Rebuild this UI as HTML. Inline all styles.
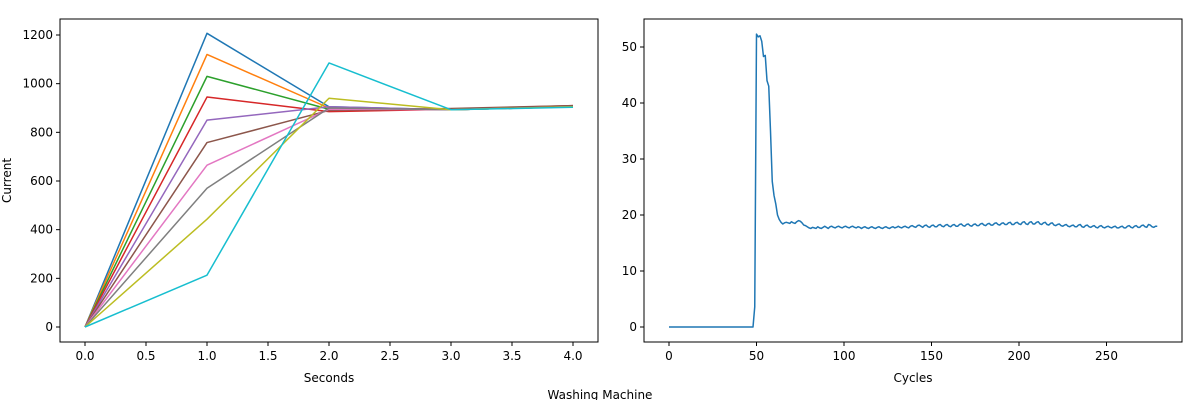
<!DOCTYPE html>
<html><head><meta charset="utf-8"><style>
html,body{margin:0;padding:0;background:#fff;}
svg{display:block;font-family:"DejaVu Sans","Liberation Sans",sans-serif;}
</style></head><body>
<svg id="chart" width="1200" height="400" viewBox="0 0 1200 400" xmlns="http://www.w3.org/2000/svg">
<rect width="1200" height="400" fill="#fff"/>
<g id="left"></g>
<g id="right"></g>
<text x="600" y="399" text-anchor="middle" font-size="12">Washing Machine</text>
</svg>
<script>
const leftX = [0,1,2,3,4];
const leftBlue   = [0,1207,905,893,905];
const leftOrange = [0,1120,900,893,905];
const leftGreen  = [0,1030,895,893,905];
const leftRed    = [0,945,885,895,910];
const leftPurple = [0,850,905,893,905];
const leftBrown  = [0,758,890,898,910];
const leftPink   = [0,665,895,893,905];
const leftGray   = [0,570,900,893,905];
const leftOlive  = [0,443,940,893,905];
const leftCyan   = [0,213,1085,893,903];
const leftXTicks = [0,0.5,1,1.5,2,2.5,3,3.5,4];
const leftYTicks = [0,200,400,600,800,1000,1200];
const rightY = [
0,0,0,0,0,0,0,0,0,0, 0,0,0,0,0,0,0,0,0,0, 0,0,0,0,0,0,0,0,0,0, 0,0,0,0,0,0,0,0,0,0,
0,0,0,0,0,0,0,0,0,3.6,
52.3,51.8,52,51,48.3,48.5,44,43,35,26,
23.5,22,20,19.2,18.7,18.4,18.6,18.7,18.6,18.5,
18.8,18.6,18.5,18.8,19,18.9,18.6,18.2,18.1,17.9,
17.7,17.6,17.8,17.7,17.6,17.9,17.7,17.6,17.8,18,
17.8,17.6,17.9,18.0,17.8,17.7,17.9,18.0,17.8,17.7,
17.9,18.0,17.8,17.7,17.9,18.0,17.8,17.7,17.9,17.8,
17.6,17.8,17.9,17.7,17.6,17.8,17.9,17.7,17.6,17.8,
17.9,17.7,17.6,17.8,17.9,17.7,17.6,17.8,17.9,17.7,
17.8,18.0,17.8,17.7,17.9,18.0,17.8,17.7,18.0,18.1,
17.9,17.8,18.1,18.2,18.0,17.8,18.1,18.2,17.9,17.8,
18.1,18.2,17.9,17.9,18.2,18.3,18.0,17.9,18.2,18.3,
18.0,17.9,18.2,18.3,18.0,18.0,18.3,18.4,18.1,18.0,
18.3,18.4,18.1,18.0,18.3,18.4,18.1,18.1,18.4,18.5,
18.2,18.1,18.4,18.5,18.2,18.2,18.5,18.6,18.3,18.2,
18.5,18.6,18.3,18.3,18.6,18.7,18.3,18.3,18.6,18.7,
18.4,18.3,18.7,18.8,18.4,18.3,18.7,18.8,18.4,18.4,
18.7,18.8,18.4,18.3,18.6,18.7,18.3,18.2,18.5,18.6,
18.2,18.1,18.3,18.4,18.1,18.0,18.2,18.3,18.0,17.9,
18.1,18.2,17.9,17.9,18.2,18.3,17.9,17.8,18.1,18.2,
17.9,17.8,18.0,18.1,17.8,17.7,18.0,18.1,17.8,17.7,
17.9,18.0,17.8,17.7,17.9,18.0,17.7,17.7,17.9,18.0,
17.7,17.7,18.0,18.1,17.8,17.7,18.0,18.1,17.8,17.8,
18.1,18.2,17.9,17.8,18.3,18.2,17.9,17.8,18.0,18.0];
const rightXTicks = [0,50,100,150,200,250];
const rightYTicks = [0,10,20,30,40,50];

const NS="http://www.w3.org/2000/svg";
function mk(tag,attrs,parent){const e=document.createElementNS(NS,tag);for(const k in attrs)e.setAttribute(k,attrs[k]);parent.appendChild(e);return e;}

function axes(g,box,sx,sy,xt,yt,xfmt,xlabel,ylabel){
  const fr=mk('rect',{x:box.x,y:box.y,width:box.w,height:box.h,fill:'none',stroke:'#000','stroke-width':1},g);
  
  
  xt.forEach(v=>{const x=sx(v);
    const t=mk('line',{x1:x,x2:x,y1:box.y+box.h,y2:box.y+box.h+4,stroke:'#000'},g);
    
    
    const l=mk('text',{x:x,y:box.y+box.h+18,'text-anchor':'middle','font-size':12},g);
    l.textContent=xfmt(v);
    
    });
  yt.forEach(v=>{const y=sy(v);
    const t=mk('line',{x1:box.x-4,x2:box.x,y1:y,y2:y,stroke:'#000'},g);
    
    
    const l=mk('text',{x:box.x-7,y:y+4,'text-anchor':'end','font-size':12},g);
    l.textContent=String(v);
    
    });
  const xl=mk('text',{x:box.x+box.w/2,y:box.y+box.h+40,'text-anchor':'middle','font-size':12},g);
  xl.textContent=xlabel;
  
  
  if(ylabel){const yl=mk('text',{x:0,y:0,'text-anchor':'middle','font-size':12,transform:`translate(11,${box.y+box.h/2}) rotate(-90)`},g);
    yl.textContent=ylabel;
    
    }
}
function line(g,xs,ys,sx,sy,color,name){
  const d=xs.map((x,i)=>(i?'L':'M')+sx(x).toFixed(2)+','+sy(ys[i]).toFixed(2)).join('');
  const p=mk('path',{d:d,fill:'none',stroke:color,'stroke-width':1.5,'stroke-linejoin':'round'},g);
  
  
}
// left
const L=document.getElementById('left');
const lb={x:60,y:19,w:538,h:323};
const lsx=v=>85+v*122, lsy=v=>327-v*(292/1200);
axes(L,lb,lsx,lsy,leftXTicks,leftYTicks,v=>v.toFixed(1),'Seconds','Current');
const series=[[leftBlue,'#1f77b4'],[leftOrange,'#ff7f0e'],[leftGreen,'#2ca02c'],[leftRed,'#d62728'],[leftPurple,'#9467bd'],[leftBrown,'#8c564b'],[leftPink,'#e377c2'],[leftGray,'#7f7f7f'],[leftOlive,'#bcbd22'],[leftCyan,'#17becf']];
series.forEach((s,i)=>line(L,leftX,s[0],lsx,lsy,s[1],'current-series-'+(i+1)));
// right
const R=document.getElementById('right');
const rb={x:644,y:19,w:538,h:323};
const rsx=v=>669+v*1.75, rsy=v=>327-v*5.6;
axes(R,rb,rsx,rsy,rightXTicks,rightYTicks,v=>String(v),'Cycles',null);
line(R,rightY.map((_,i)=>i),rightY,rsx,rsy,'#1f77b4','cycles-series');
</script>
</body></html>
